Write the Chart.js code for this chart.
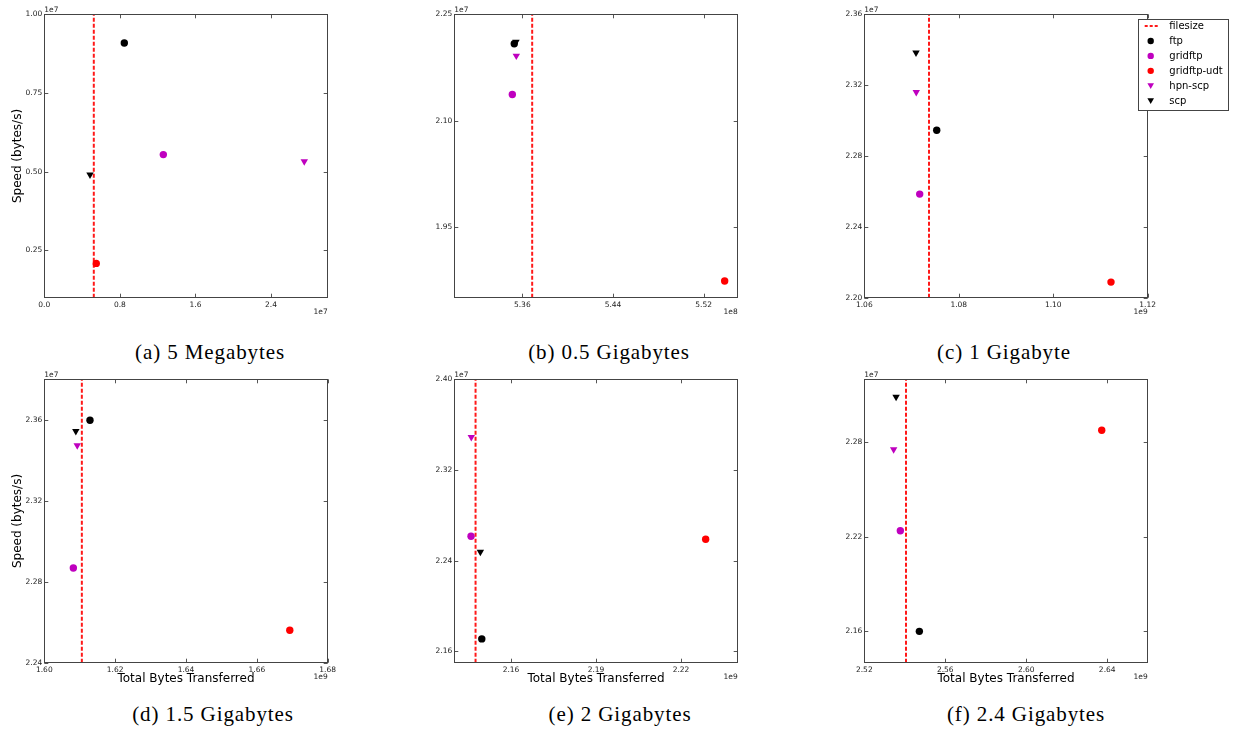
<!DOCTYPE html>
<html>
<head>
<meta charset="utf-8">
<script src="https://cdn.jsdelivr.net/npm/chart.js@4.4.0/dist/chart.umd.min.js"></script>
<style>
  body { margin: 0; background: #fff; width: 1236px; height: 732px; position: relative; overflow: hidden; }
  canvas { position: absolute; }
  .cap { position: absolute; font-family: "Liberation Serif", serif; font-size: 21px; letter-spacing: 0.9px;
         white-space: nowrap; transform: translate(-50%, -50%); color: #000; }
</style>
</head>
<body>
<script>
// one panel per transfer size
const captions = ['(a) 5 Megabytes', '(b) 0.5 Gigabytes', '(c) 1 Gigabyte',
                  '(d) 1.5 Gigabytes', '(e) 2 Gigabytes', '(f) 2.4 Gigabytes'];
const fileSizes = [5.24e6, 5.3687e8, 1.0737e9, 1.6106e9, 2.1475e9, 2.5406e9];

// x = total bytes transferred, y = speed (bytes/s)
const ftpX     = [8.47e6, 5.3529e8, 1.07533e9, 1.6129e9, 2.1497e9, 2.5472e9];
const ftpY     = [9.09e6, 2.2084e7, 2.2945e7, 2.3598e7, 2.1710e7, 2.1599e7];
const gridftpX = [1.26e7, 5.3512e8, 1.07173e9, 1.6082e9, 2.1459e9, 2.5378e9];
const gridftpY = [5.545e6, 2.1368e7, 2.2585e7, 2.2868e7, 2.2616e7, 2.2238e7];
const udtX     = [5.50e6, 5.5385e8, 1.11223e9, 1.6693e9, 2.2287e9, 2.6373e9];
const udtY     = [2.09e6, 1.8736e7, 2.2088e7, 2.2560e7, 2.2589e7, 2.2876e7];
const hpnX     = [2.752e7, 5.3547e8, 1.0710e9, 1.6093e9, 2.1460e9, 2.5345e9];
const hpnY     = [5.33e6, 2.1914e7, 2.3160e7, 2.3473e7, 2.3489e7, 2.2755e7];
const scpX     = [4.84e6, 5.3544e8, 1.07095e9, 1.6089e9, 2.1492e9, 2.5357e9];
const scpY     = [4.91e6, 2.2112e7, 2.3383e7, 2.3544e7, 2.2477e7, 2.3088e7];

// axis limits and ticks
const xMins = [0, 5.30e8, 1.06e9, 1.60e9, 2.14e9, 2.52e9];
const xMaxs = [3.0e7, 5.55e8, 1.12e9, 1.68e9, 2.24e9, 2.66e9];
const yMins = [1.0e6, 1.85e7, 2.20e7, 2.24e7, 2.15e7, 2.14e7];
const yMaxs = [1.0e7, 2.25e7, 2.36e7, 2.38e7, 2.40e7, 2.32e7];
const xExps = [7, 8, 9, 9, 9, 9];
const yExps = [7, 7, 7, 7, 7, 7];
const xTickLabels = [['0.0', '0.8', '1.6', '2.4'], ['5.36', '5.44', '5.52'], ['1.06', '1.08', '1.10', '1.12'],
                     ['1.60', '1.62', '1.64', '1.66', '1.68'], ['2.16', '2.19', '2.22'], ['2.52', '2.56', '2.60', '2.64']];
const yTickLabels = [['0.25', '0.50', '0.75', '1.00'], ['1.95', '2.10', '2.25'], ['2.20', '2.24', '2.28', '2.32', '2.36'],
                     ['2.24', '2.28', '2.32', '2.36'], ['2.16', '2.24', '2.32', '2.40'], ['2.16', '2.22', '2.28']];

const MAGENTA = '#bf00bf';
const TICK_FONT = '"DejaVu Sans"';

// frame, inward ticks, offset texts ("1e7") and the boxed legend
const framePlugin = {
  id: 'frame',
  afterDraw(chart) {
    const p = chart.options.plugins.frame.panel;
    const ctx = chart.ctx;
    const { left, right, top, bottom } = chart.chartArea;
    const xs = chart.scales.x, ys = chart.scales.y;
    ctx.save();
    ctx.strokeStyle = '#555';
    ctx.lineWidth = 1;
    ctx.beginPath();
    xs.ticks.forEach(t => {
      const px = Math.round(xs.getPixelForValue(t.value)) + 0.5;
      ctx.moveTo(px, bottom); ctx.lineTo(px, bottom - 4);
      ctx.moveTo(px, top); ctx.lineTo(px, top + 4);
    });
    ys.ticks.forEach(t => {
      const py = Math.round(ys.getPixelForValue(t.value)) + 0.5;
      ctx.moveTo(left, py); ctx.lineTo(left + 4, py);
      ctx.moveTo(right, py); ctx.lineTo(right - 4, py);
    });
    ctx.stroke();
    ctx.strokeStyle = '#444';
    ctx.strokeRect(Math.round(left) + 0.5, Math.round(top) + 0.5, Math.round(right - left), Math.round(bottom - top));

    ctx.fillStyle = '#222';
    ctx.font = '7.5px ' + TICK_FONT;
    ctx.textAlign = 'left';
    ctx.textBaseline = 'bottom';
    ctx.fillText('1e' + yExps[p], left, top - 1);
    ctx.textAlign = 'right';
    ctx.textBaseline = 'middle';
    ctx.fillText('1e' + xExps[p], right, bottom + 14.5);

    if (p === 2) {
      const x0 = right - 10, y0 = 19.3, w = 89.6, h = 91;
      ctx.fillStyle = '#fff';
      ctx.fillRect(x0, y0, w, h);
      ctx.strokeStyle = '#444';
      ctx.strokeRect(Math.round(x0) + 0.5, Math.round(y0) + 0.5, Math.round(w), Math.round(h));
      ctx.font = '10px ' + TICK_FONT;
      ctx.textAlign = 'left';
      ctx.textBaseline = 'middle';
      chart.data.datasets.forEach((ds, k) => {
        const y = y0 + 6.7 + k * 14.95;
        const mx = x0 + 13;
        if (ds.showLine) {
          ctx.strokeStyle = ds.borderColor;
          ctx.lineWidth = 2;
          ctx.setLineDash([3, 2]);
          ctx.beginPath(); ctx.moveTo(x0 + 7, y); ctx.lineTo(x0 + 21.5, y); ctx.stroke();
          ctx.setLineDash([]);
        } else {
          ctx.fillStyle = ds.backgroundColor;
          ctx.beginPath();
          if (ds.pointStyle === 'triangle') {
            ctx.moveTo(mx - 3.3, y - 2.6); ctx.lineTo(mx + 3.3, y - 2.6); ctx.lineTo(mx, y + 3.3);
            ctx.closePath();
          } else {
            ctx.arc(mx, y, 3.2, 0, Math.PI * 2);
          }
          ctx.fill();
        }
        ctx.fillStyle = '#000';
        ctx.fillText(ds.label, x0 + 31.6, y + 0.5);
      });
    }
    ctx.restore();
  }
};

function pts(xs, ys, i) { return [{ x: xs[i], y: ys[i] }]; }

function series(label, color, style, xs, ys, i, order) {
  return {
    label: label, data: pts(xs, ys, i), order: order,
    backgroundColor: color, borderColor: color, borderWidth: 0,
    pointStyle: style, pointRotation: style === 'triangle' ? 180 : 0,
    pointRadius: style === 'triangle' ? 4.3 : 3.7, pointHoverRadius: 4
  };
}

for (let i = 0; i < 6; i++) {
  const col = i % 3, row = Math.floor(i / 3);
  const w = col === 2 ? 416 : 410, h = 330;
  const cv = document.createElement('canvas');
  cv.width = w; cv.height = h;
  cv.style.left = (col * 410) + 'px';
  cv.style.top = (row * 365) + 'px';
  cv.style.width = w + 'px';
  cv.style.height = h + 'px';
  document.body.appendChild(cv);

  const cap = document.createElement('div');
  cap.className = 'cap';
  cap.textContent = captions[i];
  cap.style.left = [210, 609, 1004, 213, 620, 1026][i] + 'px';
  cap.style.top = (row === 0 ? 352 : 714) + 'px';
  document.body.appendChild(cap);

  new Chart(cv, {
    type: 'scatter',
    data: {
      datasets: [
        { label: 'filesize', showLine: true, order: 0,
          data: [{ x: fileSizes[i], y: yMins[i] }, { x: fileSizes[i], y: yMaxs[i] }],
          borderColor: 'rgba(255,0,0,0.9)', backgroundColor: 'rgba(255,0,0,0.9)',
          borderWidth: 2, borderDash: [4, 2], pointRadius: 0, fill: false },
        series('ftp', '#000', 'circle', ftpX, ftpY, i, -1),
        series('gridftp', MAGENTA, 'circle', gridftpX, gridftpY, i, -2),
        series('gridftp-udt', '#ff0000', 'circle', udtX, udtY, i, -3),
        series('hpn-scp', MAGENTA, 'triangle', hpnX, hpnY, i, -4),
        series('scp', '#000', 'triangle', scpX, scpY, i, -5)
      ]
    },
    options: {
      responsive: false,
      animation: false,
      events: [],
      layout: { padding: { left: 0, top: 14.3, right: w - 44.3 - 283.4, bottom: 0 } },
      plugins: { legend: { display: false }, tooltip: { enabled: false }, frame: { panel: i } },
      scales: {
        x: {
          type: 'linear', min: xMins[i], max: xMaxs[i],
          afterBuildTicks: s => { s.ticks = xTickLabels[i].map(t => ({ value: parseFloat(t) * Math.pow(10, xExps[i]) })); },
          afterFit: s => { s.height = 32.3; },
          grid: { display: false, drawTicks: false },
          border: { display: false },
          ticks: { autoSkip: false, maxRotation: 0, padding: 3, color: '#222',
                   font: { family: TICK_FONT, size: 7.5 },
                   callback: (v, idx) => xTickLabels[i][idx] },
          title: { display: row === 1, text: 'Total Bytes Transferred', color: '#000',
                   font: { family: TICK_FONT, size: 12 }, padding: { top: 0, bottom: 8.8 } }
        },
        y: {
          type: 'linear', min: yMins[i], max: yMaxs[i],
          afterBuildTicks: s => { s.ticks = yTickLabels[i].map(t => ({ value: parseFloat(t) * Math.pow(10, yExps[i]) })); },
          afterFit: s => { s.width = 44.3; },
          grid: { display: false, drawTicks: false },
          border: { display: false },
          ticks: { autoSkip: false, padding: 2, color: '#222',
                   font: { family: TICK_FONT, size: 7.5 },
                   callback: (v, idx) => yTickLabels[i][idx] },
          title: { display: col === 0, text: 'Speed (bytes/s)', color: '#000',
                   font: { family: TICK_FONT, size: 12 }, padding: { top: 10.8, bottom: 0 } }
        }
      }
    },
    plugins: [framePlugin]
  });
}
</script>
</body>
</html>
